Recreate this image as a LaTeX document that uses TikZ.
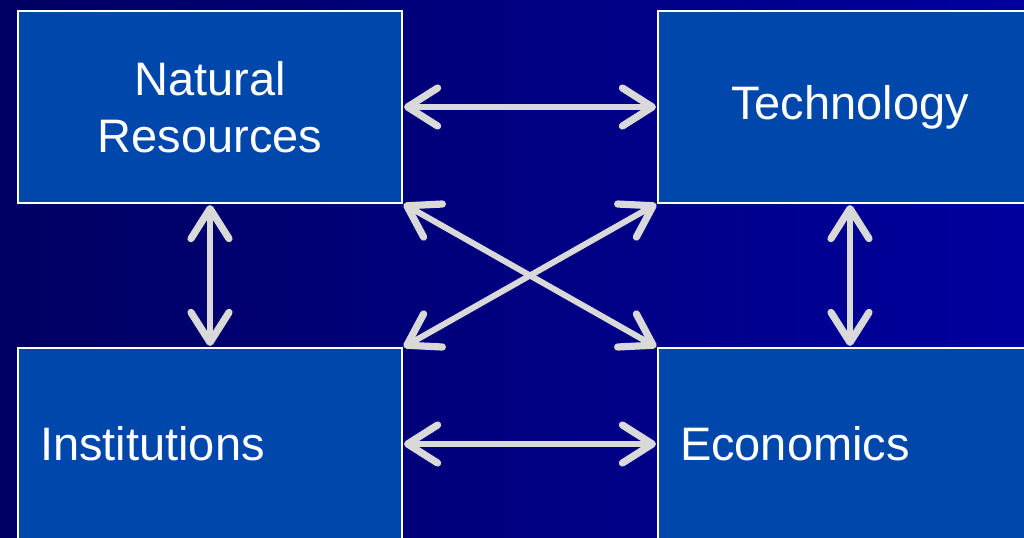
\documentclass[tikz,border=0pt]{standalone}
\usepackage{fontspec}
\setmainfont{Liberation Sans}
\usetikzlibrary{positioning,arrows.meta}

\definecolor{bgleft}{RGB}{0,0,98}
\definecolor{bgright}{RGB}{0,0,158}
\definecolor{boxblue}{RGB}{0,71,171}
\definecolor{linkgray}{RGB}{217,217,217}

\begin{document}
\begin{tikzpicture}[x=0.5pt, y=-0.5pt, node distance={72.5pt and 128pt},
		box/.style = {draw=white, line width=1pt, fill=boxblue, text=white,
			minimum width=192pt, minimum height=96pt, inner sep=0pt, outer sep=0pt,
			font=\fontsize{23.5}{28.5}\selectfont},
		barb/.tip = {Straight Barb[length=15pt, width=19pt, line width=3.6pt, round]},
		link/.style = {draw=linkgray, line width=3pt, line cap=round, barb-barb,
			shorten <=1pt, shorten >=1pt}]
		\useasboundingbox (0,0) rectangle (1024,537);
		\fill[left color=bgleft, right color=bgright] (0,0) rectangle (1024,537);
		% the four boxes
		\node[box, align=center] (nr) at (210,107) {Natural\\Resources};
		\node[box, align=center] (tech) [right=of nr] {Technology};
		\node[box, text width=170pt, align=left] (inst) [below=of nr] {Institutions};
		\node[box, text width=170pt, align=left] (econ) [below=of tech] {Economics};
		% links between them
		\draw[link] (nr) -- (tech);
		\draw[link] (inst) -- (econ);
		\draw[link] (nr) -- (inst);
		\draw[link] (tech) -- (econ);
		\draw[link] (nr.south east) -- (econ.north west);
		\draw[link] (tech.south west) -- (inst.north east);
	\end{tikzpicture}
\end{document}
